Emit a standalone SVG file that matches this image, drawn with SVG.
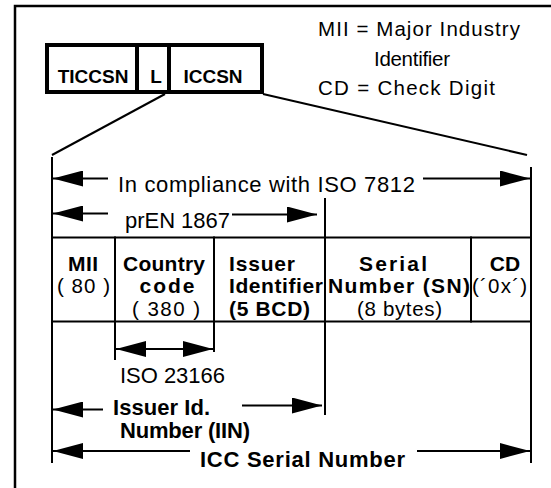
<svg xmlns="http://www.w3.org/2000/svg" width="551" height="488" viewBox="0 0 551 488">
<style>
text{font-family:"Liberation Sans",Arial,Helvetica,sans-serif;fill:#000}
.r{font-size:22px}
.b{font-size:22px;font-weight:bold}
.hb{font-size:19px;font-weight:bold}
.tb{font-size:21px;font-weight:bold}
.tr{font-size:20.5px}
.leg{font-size:20.5px}
.ln{stroke:#000;stroke-width:2;fill:none}
.ah{fill:#000;stroke:none}
</style>
<defs>
<marker id="ae" markerUnits="userSpaceOnUse" markerWidth="31" markerHeight="16" refX="30" refY="8" orient="auto" viewBox="0 0 31 16"><path class="ah" d="M0,0 L30,8 L0,16 Z"/></marker>
<marker id="as" markerUnits="userSpaceOnUse" markerWidth="31" markerHeight="16" refX="1" refY="8" orient="auto" viewBox="0 0 31 16"><path class="ah" d="M31,0 L1,8 L31,16 Z"/></marker>
</defs>
<rect x="15" y="6" width="540" height="490" fill="none" stroke="#000" stroke-width="2.5"/>
<g id="legend">
<text class="leg" x="318" y="36" textLength="202">MII = Major Industry</text>
<text class="leg" x="374" y="66" textLength="76">Identifier</text>
<text class="leg" x="318" y="95" textLength="177">CD = Check Digit</text>
</g>
<g id="header">
<rect x="47" y="45" width="215" height="47" fill="#fff" stroke="#000" stroke-width="4"/>
<line x1="137" y1="45" x2="137" y2="92" stroke="#000" stroke-width="4"/>
<line x1="169" y1="45" x2="169" y2="92" stroke="#000" stroke-width="4"/>
<text class="hb" x="93" y="83" text-anchor="middle">TICCSN</text>
<text class="hb" x="156" y="83" text-anchor="middle">L</text>
<text class="hb" x="213" y="83" text-anchor="middle">ICCSN</text>
</g>
<g id="table">
<line class="ln" x1="51" y1="237.5" x2="532" y2="237.5"/>
<line class="ln" x1="51" y1="321.5" x2="532" y2="321.5"/>
<line class="ln" x1="115" y1="236.5" x2="115" y2="360"/>
<line class="ln" x1="214" y1="236.5" x2="214" y2="352"/>
<line class="ln" x1="471" y1="236.5" x2="471" y2="322.5"/>
</g>
<g id="mii">
<text class="tb" x="83" y="271" text-anchor="middle" textLength="30">MII</text>
<text class="tr" x="83.5" y="293" text-anchor="middle" textLength="53">( 80 )</text>
</g>
<g id="country">
<text class="tb" x="164" y="271" text-anchor="middle" textLength="82">Country</text>
<text class="tb" x="167" y="293" text-anchor="middle" textLength="55">code</text>
<text class="tr" x="166" y="316" text-anchor="middle" textLength="68">( 380 )</text>
</g>
<g id="issuer">
<text class="tb" x="229" y="271" textLength="66">Issuer</text>
<text class="tb" x="229" y="293" textLength="94">Identifier</text>
<text class="tb" x="229" y="316" textLength="81">(5 BCD)</text>
</g>
<g id="serial">
<text class="tb" x="393" y="271" text-anchor="middle" textLength="68">Serial</text>
<text class="tb" x="399" y="293" text-anchor="middle" textLength="142">Number (SN)</text>
<text class="tr" x="399.5" y="316" text-anchor="middle" textLength="85">(8 bytes)</text>
</g>
<g id="cd">
<text class="tb" x="505" y="271" text-anchor="middle">CD</text>
<text class="tr" x="499.5" y="293" text-anchor="middle" textLength="55">(´0x´)</text>
</g>
<g id="connectors">
<line class="ln" x1="165" y1="94" x2="52" y2="155"/>
<line class="ln" x1="263" y1="94" x2="527" y2="155"/>
<line class="ln" x1="52" y1="157" x2="52" y2="463"/>
<line class="ln" x1="531" y1="167" x2="531" y2="463"/>
<line class="ln" x1="325" y1="198" x2="325" y2="415"/>
<line class="ln" x1="108" y1="178.5" x2="53" y2="178.5" marker-end="url(#ae)"/>
<line class="ln" x1="423" y1="178.5" x2="530" y2="178.5" marker-end="url(#ae)"/>
<line class="ln" x1="108" y1="213.5" x2="53" y2="213.5" marker-end="url(#ae)"/>
<line class="ln" x1="232" y1="214.5" x2="317" y2="214.5" marker-end="url(#ae)"/>
<line class="ln" x1="116" y1="349" x2="213" y2="349" marker-start="url(#as)" marker-end="url(#ae)"/>
<line class="ln" x1="103" y1="409.5" x2="53" y2="409.5" marker-end="url(#ae)"/>
<line class="ln" x1="242" y1="405.5" x2="322" y2="405.5" marker-end="url(#ae)"/>
<line class="ln" x1="190" y1="451" x2="53" y2="451" marker-end="url(#ae)"/>
<line class="ln" x1="417" y1="451" x2="530" y2="451" marker-end="url(#ae)"/>
</g>
<g id="labels">
<text class="r" x="118" y="192" textLength="297">In compliance with ISO 7812</text>
<text class="r" x="125" y="228" textLength="105">prEN 1867</text>
<text class="r" x="120" y="383" textLength="105">ISO 23166</text>
<text class="b" x="113" y="415" textLength="97">Issuer Id.</text>
<text class="b" x="120" y="438" textLength="130">Number (IIN)</text>
<text class="b" x="200" y="467" textLength="205">ICC Serial Number</text>
</g>
</svg>
